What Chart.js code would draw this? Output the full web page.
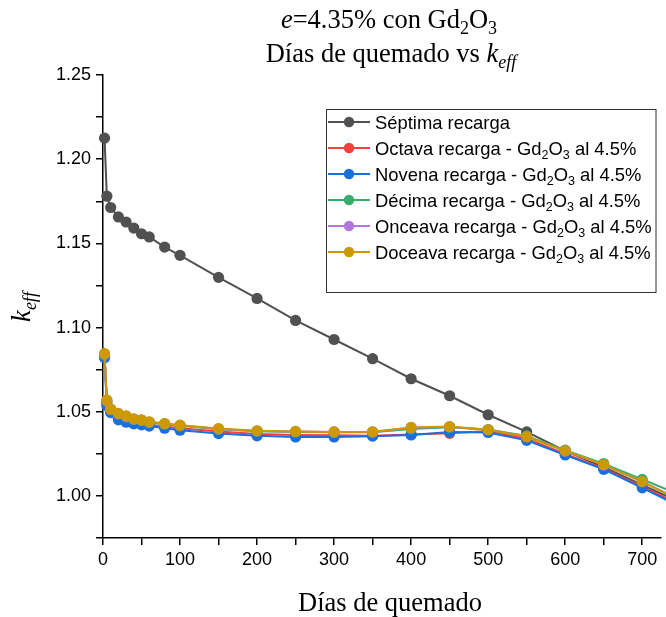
<!DOCTYPE html>
<html><head><meta charset="utf-8">
<script src="https://cdn.jsdelivr.net/npm/chart.js@4/dist/chart.umd.min.js"></script>
<style>html,body{margin:0;padding:0;background:#fff;overflow:hidden}</style>
</head><body>
<canvas id="c" width="666" height="617"></canvas>
<script>
// ---- data ----
const days    = [2, 5, 10, 20, 30, 40, 50, 60, 80, 100, 150, 200, 250, 300, 350, 400, 450, 500, 550, 600, 650, 700, 750];
const septima = [1.2125, 1.1780, 1.1713, 1.1657, 1.1627, 1.1591, 1.1557, 1.1538, 1.1478, 1.1429, 1.1298, 1.1173, 1.1042, 1.0929, 1.0815, 1.0696, 1.0595, 1.0482, 1.0380, 1.0268, 1.0170, 1.0065, 0.9960];
const octava  = [1.0830, 1.0550, 1.0500, 1.0462, 1.0447, 1.0437, 1.0430, 1.0422, 1.0412, 1.0402, 1.0382, 1.0367, 1.0362, 1.0360, 1.0358, 1.0365, 1.0372, 1.0385, 1.0340, 1.0250, 1.0162, 1.0055, 0.9945];
const novena  = [1.0820, 1.0535, 1.0495, 1.0452, 1.0438, 1.0428, 1.0422, 1.0415, 1.0402, 1.0390, 1.0370, 1.0357, 1.0350, 1.0350, 1.0355, 1.0362, 1.0380, 1.0377, 1.0330, 1.0243, 1.0158, 1.0048, 0.9935];
const decima  = [1.0840, 1.0562, 1.0512, 1.0486, 1.0470, 1.0455, 1.0448, 1.0436, 1.0426, 1.0416, 1.0396, 1.0384, 1.0380, 1.0378, 1.0378, 1.0398, 1.0408, 1.0394, 1.0356, 1.0272, 1.0192, 1.0098, 1.0005];
const onceava = [1.0843, 1.0565, 1.0514, 1.0488, 1.0473, 1.0456, 1.0450, 1.0439, 1.0429, 1.0419, 1.0398, 1.0386, 1.0382, 1.0380, 1.0380, 1.0405, 1.0410, 1.0393, 1.0352, 1.0266, 1.0184, 1.0084, 0.9975];
const doceava = [1.0845, 1.0570, 1.0516, 1.0490, 1.0476, 1.0458, 1.0452, 1.0440, 1.0430, 1.0420, 1.0400, 1.0387, 1.0383, 1.0380, 1.0381, 1.0407, 1.0412, 1.0393, 1.0351, 1.0268, 1.0185, 1.0085, 0.9970];

const seriesNames = ['Séptima recarga', 'Octava recarga', 'Novena recarga', 'Décima recarga', 'Onceava recarga', 'Doceava recarga'];
const seriesValues = [septima, octava, novena, decima, onceava, doceava];
const seriesColors = ['#515151', '#F14040', '#1A6FDF', '#37AD6B', '#B177DE', '#CC9900'];
const xTickStep = 50, yTickStep = 0.025;

const SERIF = '"Liberation Serif", "Times New Roman", serif';
const SANS = '"Liberation Sans", Arial, sans-serif';

function drawRich(ctx, segs, x, y, align, size, family) {
  const parts = segs.map(([t, st]) => {
    const sub = st.includes('s'), it = st.includes('i');
    const fs = sub ? size * 0.68 : size;
    const font = (it ? 'italic ' : '') + fs + 'px ' + family;
    ctx.font = font;
    return { t, font, w: ctx.measureText(t).width, dy: sub ? size * 0.24 : 0 };
  });
  const total = parts.reduce((a, p) => a + p.w, 0);
  let cx = align === 'center' ? x - total / 2 : align === 'right' ? x - total : x;
  ctx.textAlign = 'left'; ctx.textBaseline = 'alphabetic';
  for (const p of parts) { ctx.font = p.font; ctx.fillText(p.t, cx, y + p.dy); cx += p.w; }
}

const decor = {
  id: 'decor',
  afterDraw(chart) {
    const ctx = chart.ctx;
    ctx.save();
    ctx.fillStyle = '#000';
    // title
    drawRich(ctx, [['e', 'i'], ['=4.35% con Gd', ''], ['2', 's'], ['O', ''], ['3', 's']], 389, 28, 'center', 26.5, SERIF);
    drawRich(ctx, [['Días de quemado vs ', ''], ['k', 'i'], ['eff', 'is']], 391, 62, 'center', 26.5, SERIF);
    // x title
    drawRich(ctx, [['Días de quemado', '']], 390, 611, 'center', 26.5, SERIF);
    // y title
    ctx.save();
    ctx.translate(30, 307);
    ctx.rotate(-Math.PI / 2);
    drawRich(ctx, [['k', 'i'], ['eff', 'is']], 0, 0, 'center', 26.5, SERIF);
    ctx.restore();
    // legend
    const lx = 326.5, ly = 109.5, lw = 329.5, lh = 183;
    ctx.fillStyle = '#fff';
    ctx.fillRect(lx, ly, lw, lh);
    ctx.strokeStyle = '#333';
    ctx.lineWidth = 1;
    ctx.strokeRect(lx, ly, lw, lh);
    seriesNames.forEach((name, i) => {
      const cy = 122 + i * 26;
      ctx.strokeStyle = seriesColors[i];
      ctx.lineWidth = 2;
      ctx.beginPath(); ctx.moveTo(328, cy); ctx.lineTo(370, cy); ctx.stroke();
      ctx.fillStyle = seriesColors[i];
      ctx.beginPath(); ctx.arc(349, cy, 5.2, 0, Math.PI * 2); ctx.fill();
      ctx.fillStyle = '#000';
      const segs = i === 0 ? [[name, '']] :
        [[name + ' - Gd', ''], ['2', 's'], ['O', ''], ['3', 's'], [' al 4.5%', '']];
      drawRich(ctx, segs, 375, cy + 6.5, 'left', 18.4, SANS);
    });
    ctx.restore();
  }
};

const datasets = seriesValues.map((vals, i) => ({
  label: seriesNames[i],
  data: days.map((d, j) => ({ x: d, y: vals[j] })),
  borderColor: seriesColors[i],
  backgroundColor: seriesColors[i],
  borderWidth: 2,
  pointRadius: 5.6,
  pointBorderWidth: 0,
  pointHoverRadius: 5.6,
  tension: 0,
  clip: false,
  order: seriesValues.length - i
}));

new Chart(document.getElementById('c'), {
  type: 'line',
  data: { datasets },
  options: {
    responsive: false,
    animation: false,
    devicePixelRatio: 1,
    layout: { padding: { top: 75, left: 0, right: 0, bottom: 0 } },
    plugins: { legend: { display: false }, title: { display: false }, tooltip: { enabled: false } },
    scales: {
      x: {
        type: 'linear', min: 0, max: 723.6,
        afterFit(s) { s.height = 79; },
        ticks: {
          stepSize: xTickStep, includeBounds: false, autoSkip: false, maxRotation: 0,
          color: '#000', font: { family: SANS, size: 18 }, padding: 4,
          callback: v => (Math.round(v) % 100 === 0 ? String(Math.round(v)) : '')
        },
        grid: { display: true, drawOnChartArea: false, drawTicks: true, tickLength: 7, color: '#000', lineWidth: 1.5 },
        border: { display: true, color: '#000', width: 1.5 }
      },
      y: {
        type: 'linear', min: 0.975, max: 1.25,
        afterFit(s) { s.width = 103; },
        ticks: {
          stepSize: yTickStep, includeBounds: false, autoSkip: false,
          color: '#000', font: { family: SANS, size: 18 }, padding: 5,
          callback: v => { const r = Math.round(v * 1000); return r % 50 === 0 ? (r / 1000).toFixed(2) : ''; }
        },
        grid: { display: true, drawOnChartArea: false, drawTicks: true, tickLength: 7, color: '#000', lineWidth: 1.5 },
        border: { display: true, color: '#000', width: 1.5 }
      }
    }
  },
  plugins: [decor]
});
</script>
</body></html>
